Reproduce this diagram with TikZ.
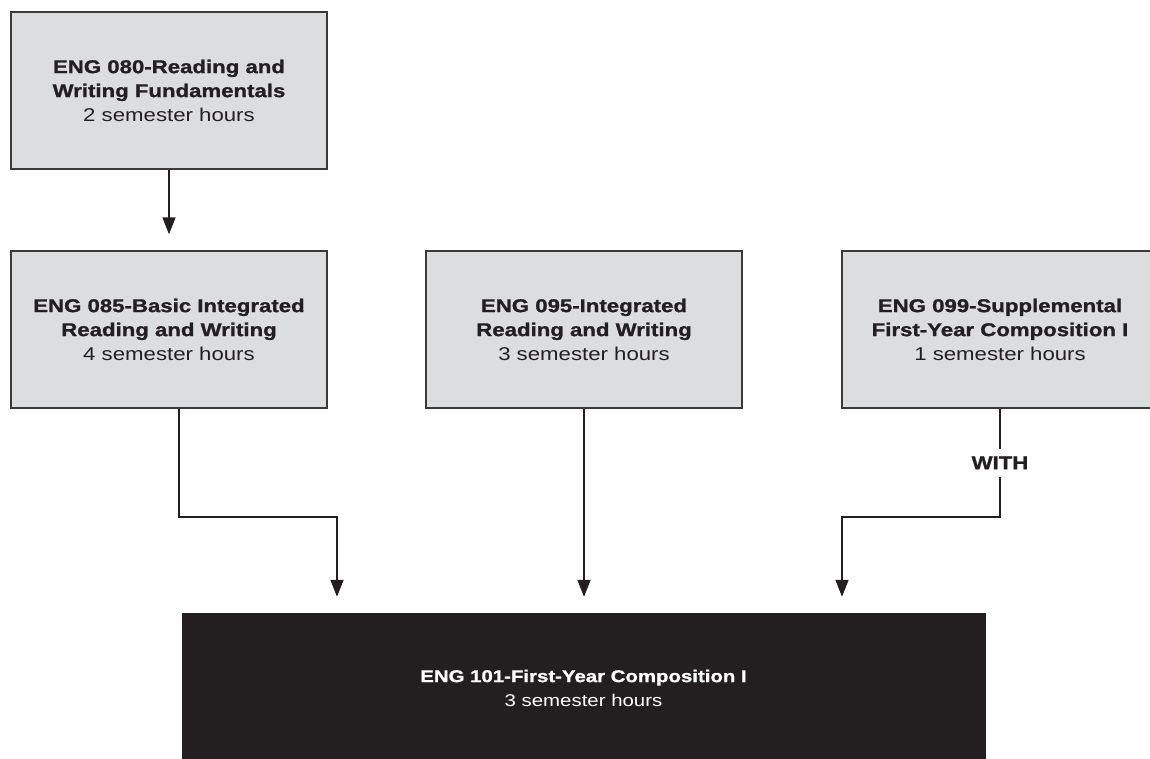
\documentclass[tikz,border=0pt]{standalone}
\usepackage{fontspec}
\setmainfont{Liberation Sans}[FakeStretch=1.2, BoldFeatures={FakeBold=1.2}]
\usetikzlibrary{arrows.meta}
\definecolor{ink}{HTML}{231F20}
\definecolor{boxgray}{HTML}{DCDDDF}
\definecolor{boxline}{HTML}{3A3A3A}
\tikzset{
  course/.style={draw=boxline, line width=1.4pt, fill=boxgray, minimum width=316pt,
    minimum height=157pt, inner sep=0pt, align=center, text=ink,
    font=\fontsize{18.5}{24}\selectfont},
  target/.style={draw=ink, fill=ink, minimum width=803pt, minimum height=150pt,
    inner sep=0pt, align=center, text=white, font=\fontsize{17}{24}\selectfont},
  conn/.style={draw=ink, line width=1.6pt},
  arr/.style={conn, -{Triangle[length=17pt, width=13pt]}, shorten >=16pt},
  withlbl/.style={fill=white, inner sep=0pt, minimum height=28pt, text=ink,
    font=\fontsize{18.5}{24}\selectfont\bfseries}
}
\begin{document}
\begin{tikzpicture}[x=1pt, y=-1pt]
  \useasboundingbox[fill=white] (0,0) rectangle (1150,758);
  \node[course] (b1) at (169,90.5) {\textbf{ENG 080-Reading and}\\\textbf{Writing Fundamentals}\\2 semester hours};
  \node[course] (b2) at (169,329.5) {\textbf{ENG 085-Basic Integrated}\\\textbf{Reading and Writing}\\4 semester hours};
  \node[course] (b3) at (584,329.5) {\textbf{ENG 095-Integrated}\\\textbf{Reading and Writing}\\3 semester hours};
  \node[course] (b4) at (1000,329.5) {\textbf{ENG 099-Supplemental}\\\textbf{First-Year Composition I}\\1 semester hours};
  \node[target] (b5) at (583.5,688) {\raisebox{-5pt}{\parbox{400pt}{\centering\textbf{ENG 101-First-Year Composition I}\\3 semester hours}}};
  \coordinate (j1) at (337,517);
  \coordinate (j2) at (842,517);
  \draw[arr] (b1.south) -- (b2.north);
  \draw[arr] ([xshift=10pt]b2.south) |- (j1) -- (j1 |- b5.north);
  \draw[arr] (b3.south) -- (b3.south |- b5.north);
  \draw[arr] (b4.south) -- node[withlbl] (w) {WITH} (b4.south |- j2) -- (j2) -- (j2 |- b5.north);
\end{tikzpicture}
\end{document}
